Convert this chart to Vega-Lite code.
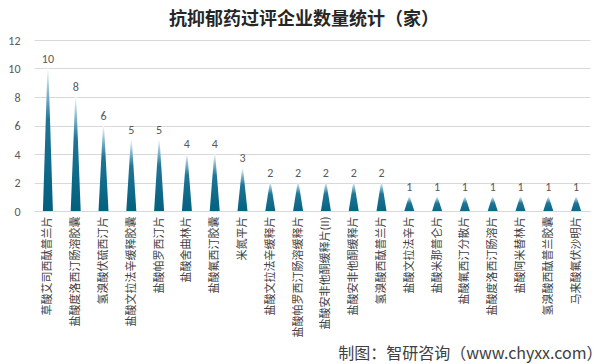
{
  "$schema": "https://vega.github.io/schema/vega-lite/v6.json",
  "width": 556,
  "height": 171,
  "autosize": {"type": "none"},
  "padding": {"left": 34, "top": 40, "right": 16, "bottom": 153},
  "background": "#ffffff",
  "title": {
    "text": "抗抑郁药过评企业数量统计（家）",
    "font": "Noto Sans CJK SC",
    "fontSize": 18,
    "fontWeight": "bold",
    "color": "#262626",
    "anchor": "middle",
    "dx": -8,
    "offset": 5
  },
  "data": {
    "values": [
      {"drug": "草酸艾司西酞普兰片", "count": 10},
      {"drug": "盐酸度洛西汀肠溶胶囊", "count": 8},
      {"drug": "氢溴酸伏硫西汀片", "count": 6},
      {"drug": "盐酸文拉法辛缓释胶囊", "count": 5},
      {"drug": "盐酸帕罗西汀片", "count": 5},
      {"drug": "盐酸舍曲林片", "count": 4},
      {"drug": "盐酸氟西汀胶囊", "count": 4},
      {"drug": "米氮平片", "count": 3},
      {"drug": "盐酸文拉法辛缓释片", "count": 2},
      {"drug": "盐酸帕罗西汀肠溶缓释片", "count": 2},
      {"drug": "盐酸安非他酮缓释片(II)", "count": 2},
      {"drug": "盐酸安非他酮缓释片", "count": 2},
      {"drug": "氢溴酸西酞普兰片", "count": 2},
      {"drug": "盐酸文拉法辛片", "count": 1},
      {"drug": "盐酸米那普仑片", "count": 1},
      {"drug": "盐酸氟西汀分散片", "count": 1},
      {"drug": "盐酸度洛西汀肠溶片", "count": 1},
      {"drug": "盐酸阿米替林片", "count": 1},
      {"drug": "氢溴酸西酞普兰胶囊", "count": 1},
      {"drug": "马来酸氟伏沙明片", "count": 1}
    ]
  },
  "encoding": {
    "x": {
      "field": "drug",
      "type": "nominal",
      "sort": null,
      "axis": {
        "title": "制图：智研咨询（www.chyxx.com）",
        "titleFont": "Noto Sans CJK SC",
        "titleFontSize": 16,
        "titleFontWeight": "normal",
        "titleColor": "#404040",
        "titleAnchor": "end",
        "titleAlign": "right",
        "titleBaseline": "alphabetic",
        "titleY": 147,
        "titleX": 568,
        "labelAngle": -90,
        "labelFont": "Noto Sans CJK SC",
        "labelFontSize": 11,
        "labelColor": "#404040",
        "labelPadding": 5,
        "labelLimit": 200,
        "ticks": false,
        "domainColor": "#d9d9d9",
        "grid": false
      }
    }
  },
  "layer": [
    {
      "transform": [
        {"stack": "count", "groupby": ["drug"], "as": ["y0", "y1"]},
        {"fold": ["y0", "y1"], "as": ["part", "yv"]}
      ],
      "mark": {
        "type": "trail",
        "clip": true,
        "color": {
          "gradient": "linear",
          "x1": 0, "y1": 0, "x2": 0, "y2": 1,
          "stops": [
            {"offset": 0, "color": "#ffffff"},
            {"offset": 0.15, "color": "#8fbfd2"},
            {"offset": 0.35, "color": "#1f7596"},
            {"offset": 1, "color": "#005e7d"}
          ]
        }
      },
      "encoding": {
        "detail": {"field": "drug"},
        "order": {"field": "yv", "type": "quantitative"},
        "y": {
          "field": "yv",
          "type": "quantitative",
          "scale": {"domain": [0, 12]},
          "axis": {
            "title": null,
            "values": [0, 2, 4, 6, 8, 10, 12],
            "domain": false,
            "ticks": false,
            "gridColor": "#d9d9d9",
            "labelFont": "Carlito, Liberation Sans, sans-serif",
            "labelFontSize": 12,
            "labelColor": "#595959",
            "labelPadding": 14
          }
        },
        "size": {
          "field": "part",
          "type": "nominal",
          "scale": {"domain": ["y0", "y1"], "range": [10, 0]},
          "legend": null
        }
      }
    },
    {
      "mark": {
        "type": "text",
        "dy": -10,
        "font": "Carlito, Liberation Sans, sans-serif",
        "fontSize": 12,
        "color": "#595959"
      },
      "encoding": {
        "y": {
          "field": "count",
          "type": "quantitative",
          "scale": {"domain": [0, 12]},
          "axis": {
            "title": null,
            "values": [0, 2, 4, 6, 8, 10, 12],
            "domain": false,
            "ticks": false,
            "gridColor": "#d9d9d9",
            "labelFont": "Carlito, Liberation Sans, sans-serif",
            "labelFontSize": 12,
            "labelColor": "#595959",
            "labelPadding": 14
          }
        },
        "text": {"field": "count", "type": "quantitative"}
      }
    }
  ],
  "config": {
    "view": {"stroke": null}
  }
}
